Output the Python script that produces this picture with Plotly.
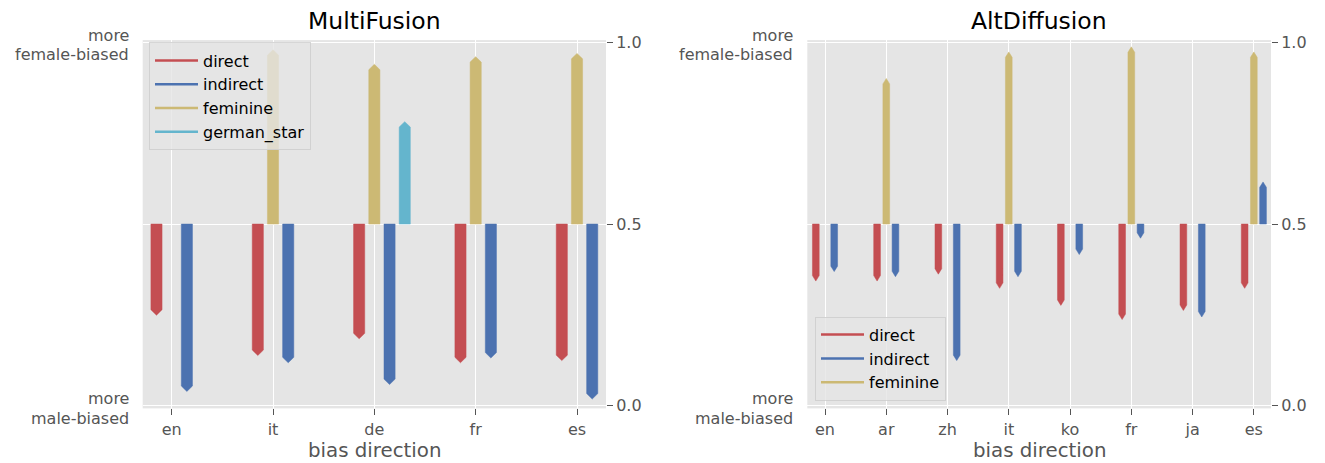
import plotly.graph_objects as go

# ---------------- data ----------------
mf_categories = ["en", "it", "de", "fr", "es"]
mf_direct = [0.249, 0.138, 0.184, 0.118, 0.124]
mf_indirect = [0.039, 0.118, 0.058, 0.131, 0.018]
mf_feminine = [None, 0.980, 0.940, 0.961, 0.970]
mf_german_star = [None, None, 0.782, None, None]

ad_categories = ["en", "ar", "zh", "it", "ko", "fr", "ja", "es"]
ad_direct = [0.343, 0.343, 0.362, 0.323, 0.276, 0.237, 0.262, 0.323]
ad_indirect = [0.369, 0.355, 0.124, 0.355, 0.416, 0.461, 0.244, 0.616]
ad_feminine = [None, 0.901, None, 0.974, None, 0.988, None, 0.974]

y_tick_vals = [0.0, 0.5, 1.0]
y_tick_text = ["0.0", "0.5", "1.0"]
female_label = ["more", "female-biased"]
male_label = ["more", "male-biased"]

# ---------------- style ----------------
COLORS = {"direct": "#C44E52", "indirect": "#4C72B0",
          "feminine": "#CCB974", "german_star": "#64B5CD"}
OFFSETS = {"direct": -0.15, "feminine": 0.0, "indirect": 0.15, "german_star": 0.30}
BAR_W = 0.11
TIP = 0.015
BASE = 0.5
FONT = "DejaVu Sans"
TICK_COLOR = "#555555"

W, H = 1325, 463


def vy(px):
    """vertical pixel position (from top) -> paper fraction, with render calibration"""
    p = (px - 5.2) / 0.97
    return 1 - p / H


def arrow_polygons(values, offset):
    xs, ys = [], []
    for i, v in enumerate(values):
        if v is None:
            continue
        c = i + offset
        d = TIP if v > BASE else -TIP
        sh = v - d
        xs += [c - BAR_W / 2, c - BAR_W / 2, c, c + BAR_W / 2, c + BAR_W / 2, c - BAR_W / 2, None]
        ys += [BASE, sh, v, sh, BASE, BASE, None]
    return xs, ys


fig = go.Figure()


def add_panel(series, xa, ya, legend_name):
    for name, vals in series:
        xs, ys = arrow_polygons(vals, OFFSETS[name])
        fig.add_trace(go.Scatter(
            x=xs, y=ys, mode="lines", fill="toself",
            fillcolor=COLORS[name], line=dict(color=COLORS[name], width=0.5),
            showlegend=False, hoverinfo="skip", xaxis=xa, yaxis=ya))
    for name, vals in series:
        fig.add_trace(go.Scatter(
            x=[None], y=[None], mode="lines", name=name,
            line=dict(color=COLORS[name], width=2.5),
            legend=legend_name, xaxis=xa, yaxis=ya))


add_panel([("direct", mf_direct), ("indirect", mf_indirect),
           ("feminine", mf_feminine), ("german_star", mf_german_star)], "x", "y", "legend")
add_panel([("direct", ad_direct), ("indirect", ad_indirect),
           ("feminine", ad_feminine)], "x2", "y2", "legend2")

ydom = [vy(406.7), vy(38.3)]
x1dom = [142.7 / W, 606.0 / W]
x2dom = [807.3 / W, 1271.0 / W]
yrange = [-0.0077, 1.0066]

common_x = dict(showgrid=True, gridcolor="white", gridwidth=1, zeroline=False,
                showline=False, ticks="outside", ticklen=6, tickcolor=TICK_COLOR,
                tickfont=dict(family=FONT, size=16, color=TICK_COLOR))
common_y = dict(showgrid=True, gridcolor="white", gridwidth=1, zeroline=False,
                showline=False, ticks="outside", ticklen=6, tickcolor=TICK_COLOR,
                side="right", range=yrange, tickvals=y_tick_vals, ticktext=y_tick_text,
                tickfont=dict(family=FONT, size=16, color=TICK_COLOR), domain=ydom)

legend_style = dict(bgcolor="rgba(229,229,229,0.8)", bordercolor="rgba(204,204,204,0.8)",
                    borderwidth=1, itemwidth=43,
                    font=dict(family=FONT, size=16, color="black"))

fig.update_layout(
    width=W, height=H, autosize=False,
    margin=dict(l=0, r=0, t=0, b=0),
    paper_bgcolor="white", plot_bgcolor="#E5E5E5",
    font=dict(family=FONT, size=16, color="black"),
    xaxis=dict(domain=x1dom, range=[-0.286, 4.286], tickvals=list(range(len(mf_categories))),
               ticktext=mf_categories, anchor="y", **common_x),
    yaxis=dict(anchor="x", **common_y),
    xaxis2=dict(domain=x2dom, range=[-0.289, 7.28], tickvals=list(range(len(ad_categories))),
                ticktext=ad_categories, anchor="y2", **common_x),
    yaxis2=dict(anchor="x2", **common_y),
    legend=dict(x=149 / W, y=vy(40.7), xanchor="left", yanchor="top", **legend_style),
    legend2=dict(x=815 / W, y=vy(399), xanchor="left", yanchor="bottom", **legend_style),
)

annotations = []
for xd, title in [(x1dom, "MultiFusion"), (x2dom, "AltDiffusion")]:
    cx = (xd[0] + xd[1]) / 2
    annotations.append(dict(text=title, xref="paper", yref="paper", x=cx, y=vy(19.6),
                            xanchor="center", yanchor="middle", showarrow=False,
                            font=dict(family=FONT, size=23.5, color="black")))
    annotations.append(dict(text="bias direction", xref="paper", yref="paper", x=cx,
                            y=vy(449.2), xanchor="center", yanchor="middle",
                            showarrow=False, font=dict(family=FONT, size=19.8, color=TICK_COLOR)))
for xr, yr in [("x domain", "y"), ("x2 domain", "y2")]:
    for val, lines in [(1.0, female_label), (0.0, male_label)]:
        for line_txt, ys in zip(lines, [7, -12.5]):
            annotations.append(dict(text=line_txt, xref=xr, yref=yr, x=0, y=val,
                                    xanchor="right", yanchor="middle", xshift=-12,
                                    yshift=ys, showarrow=False,
                                    font=dict(family=FONT, size=16, color=TICK_COLOR)))
fig.update_layout(annotations=annotations)

fig.write_html(
    "out.html",
    config={"displayModeBar": False, "responsive": False},
    post_script=("document.documentElement.style.margin='0';"
                 "document.documentElement.style.overflow='hidden';"
                 "document.body.style.margin='0';"
                 "document.body.style.overflow='hidden';"),
)
